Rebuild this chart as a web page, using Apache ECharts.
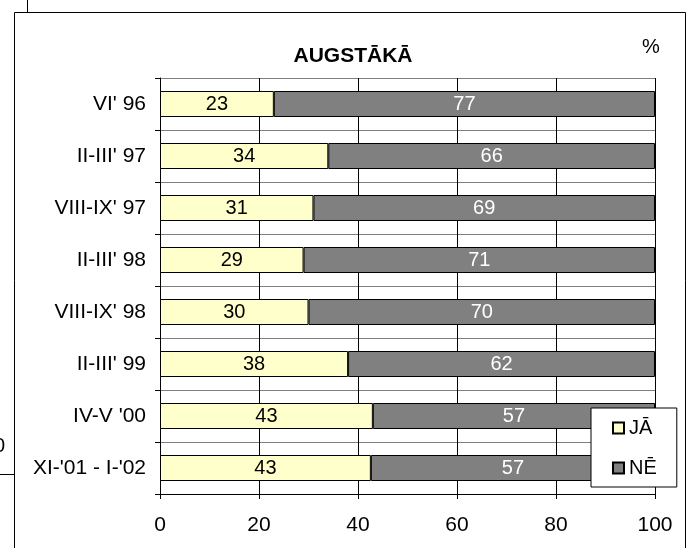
<!DOCTYPE html>
<html>
<head>
<meta charset="utf-8">
<script src="https://cdn.jsdelivr.net/npm/echarts@6/dist/echarts.min.js"></script>
<style>
  html, body { margin: 0; padding: 0; background: #fff; }
  #main { width: 691px; height: 548px; }
</style>
</head>
<body>
<div id="main"></div>
<script>
// periodi (augšā -> lejā)
var categories = ["VI' 96", "II-III' 97", "VIII-IX' 97", "II-III' 98", "VIII-IX' 98", "II-III' 99", "IV-V '00", "XI-'01 - I-'02"];
var jaValues = [23, 34, 31, 29, 30, 38, 43, 42.6];
var neValues = [77, 66, 69, 71, 70, 62, 57, 57.4];
var xTicks = [0, 20, 40, 60, 80, 100];

var FONT = 'Liberation Sans, Arial, sans-serif';
var FS = 20;

var chart = echarts.init(document.getElementById('main'), null, { renderer: 'canvas' });

var option = {
  animation: false,
  backgroundColor: '#fff',
  title: {
    text: 'AUGSTĀKĀ',
    left: 348,
    top: 41,
    textAlign: 'center',
    textStyle: { fontFamily: FONT, fontSize: 21, fontWeight: 'bold', color: '#000' }
  },
  legend: {
    orient: 'vertical',
    left: 591,
    top: 408,
    padding: [10, 20, 9, 21],
    itemGap: 20,
    itemWidth: 11,
    itemHeight: 11,
    icon: 'rect',
    backgroundColor: '#fff',
    borderColor: '#000',
    borderWidth: 1,
    textStyle: { fontFamily: FONT, fontSize: FS, color: '#000', lineHeight: 20 },
    data: ['JĀ', 'NĒ']
  },
  grid: { left: 160, right: 36, top: 78, bottom: 54 },
  xAxis: {
    type: 'value',
    min: 0,
    max: 100,
    interval: 20,
    axisLine: { show: true, lineStyle: { color: '#000', width: 1 } },
    axisTick: { show: true, length: 5, lineStyle: { color: '#000' } },
    axisLabel: {
      margin: 21,
      fontFamily: FONT, fontSize: 21, color: '#000',
      formatter: function (v) { return xTicks.indexOf(v) >= 0 ? String(v) : ''; }
    },
    splitLine: { show: true, lineStyle: { color: '#000', width: 1 } }
  },
  yAxis: {
    type: 'category',
    inverse: true,
    data: categories,
    axisLine: { show: true, lineStyle: { color: '#000', width: 1 } },
    axisTick: { show: true, length: 5, lineStyle: { color: '#000' } },
    axisLabel: { margin: 14, fontFamily: FONT, fontSize: 21, color: '#000' },
    splitLine: { show: true, lineStyle: { color: '#808080', width: 1 } }
  },
  series: [
    {
      name: 'JĀ',
      type: 'bar',
      stack: 'total',
      barWidth: '50%',
      data: jaValues,
      itemStyle: { color: '#FFFFCC', borderColor: '#000', borderWidth: 1 },
      label: {
        show: true, position: 'inside',
        fontFamily: FONT, fontSize: FS, color: '#000',
        formatter: function (p) { return Math.round(p.value); }
      }
    },
    {
      name: 'NĒ',
      type: 'bar',
      stack: 'total',
      barWidth: '50%',
      data: neValues,
      itemStyle: { color: '#808080', borderColor: '#000', borderWidth: 1 },
      label: {
        show: true, position: 'inside',
        fontFamily: FONT, fontSize: FS, color: '#fff',
        formatter: function (p) { return Math.round(p.value); }
      }
    }
  ],
  graphic: [
    // rāmis
    { type: 'rect', shape: { x: 14.5, y: 12.5, width: 671, height: 560 },
      style: { fill: null, stroke: '#000', lineWidth: 1 }, silent: true },
    { type: 'text', left: 642, top: 37,
      style: { text: '%', fontFamily: FONT, fontSize: FS, fill: '#000' } },
    // fragmenti no blakus diagrammas
    { type: 'line', shape: { x1: 27.5, y1: 0, x2: 27.5, y2: 12 }, style: { stroke: '#000', lineWidth: 1 } },
    { type: 'line', shape: { x1: 0, y1: 474.5, x2: 14, y2: 474.5 }, style: { stroke: '#000', lineWidth: 1 } },
    { type: 'text', left: -6, top: 436,
      style: { text: '0', fontFamily: FONT, fontSize: FS, fill: '#000' } }
  ]
};

chart.setOption(option);
</script>
</body>
</html>
